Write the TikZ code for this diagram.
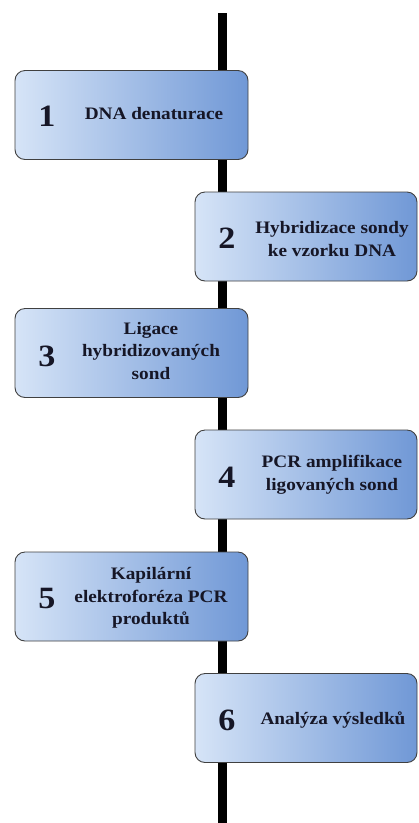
\documentclass[tikz,border=0pt]{standalone}
\usepackage{fontspec}
\setmainfont{Liberation Serif}[FakeStretch=1.1]
\begin{document}
\begin{tikzpicture}[x=1pt,y=-1pt,
  spine/.style={line width=9pt, black},
  stepbox/.style={draw=black!75, line width=0.9pt, rounded corners=10pt,
    left color=boxlight, right color=boxdark, inner sep=0pt,
    minimum height=89pt},
  leftbox/.style={stepbox, minimum width=233pt},
  rightbox/.style={stepbox, minimum width=222pt},
  num/.style={font=\fontsize{31}{31}\selectfont\bfseries, text=textdark},
  lbl/.style={font=\fontsize{17.5}{22.5}\selectfont\bfseries, text=textdark, align=center}
]
\definecolor{boxlight}{RGB}{214,228,247}
\definecolor{boxdark}{RGB}{112,152,214}
\definecolor{textdark}{RGB}{22,22,38}
\useasboundingbox (0,0) rectangle (419,823);
\fill[white] (0,0) rectangle (419,823);

% timeline spine
\coordinate (top) at (222,13);
\coordinate (bot) at (222,823);
\draw[spine] (top) -- (bot);

% step boxes
\node[leftbox]  (b1) at (131.5,115) {};
\node[rightbox] (b2) at (306,236.5) {};
\node[leftbox]  (b3) at (131.5,353) {};
\node[rightbox] (b4) at (306,474.5) {};
\node[leftbox]  (b5) at (131.5,596.5) {};
\node[rightbox] (b6) at (306,718) {};

% numbers
\node[num] (n1) at (47,116) {1};
\node[num] (n2) at (227,238) {2};
\node[num] (n3) at (47,356) {3};
\node[num] (n4) at (227,477) {4};
\node[num] (n5) at (47,598) {5};
\node[num] (n6) at (227,720) {6};

% labels
\node[lbl] (t1) at (154,114) {DNA denaturace};
\node[lbl] (t2) at (332,239) {Hybridizace sondy\\ke vzorku DNA};
\node[lbl] (t3) at (151,351) {Ligace\\hybridizovaných\\sond};
\node[lbl] (t4) at (332,475) {PCR amplifikace\\ligovaných sond};
\node[lbl] (t5) at (151,598) {Kapilární\\elektroforéza PCR\\produktů};
\node[lbl] (t6) at (333,720) {Analýza výsledků};
\end{tikzpicture}
\end{document}
